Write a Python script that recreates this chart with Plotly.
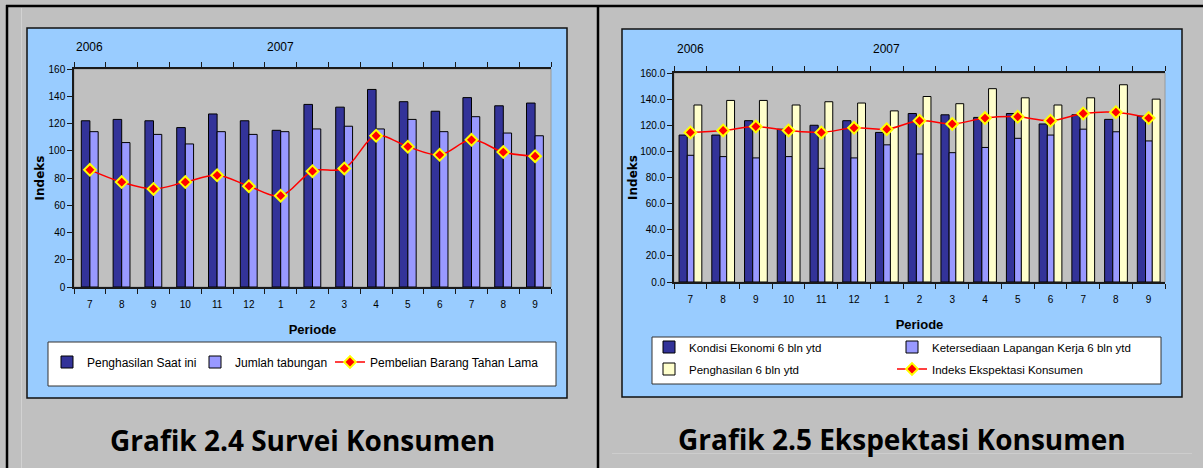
import plotly.graph_objects as go

# ---------------- data ----------------
months = ["7", "8", "9", "10", "11", "12", "1", "2", "3", "4", "5", "6", "7", "8", "9"]
years = ["2006"] * 6 + ["2007"] * 9
periods = [f"{y}-{m}" for y, m in zip(years, months)]

# Grafik 2.4 Survei Konsumen
penghasilan_saat_ini = [122, 123, 122, 117, 127, 122, 115, 134, 132, 145, 136, 129, 139, 133, 135]
jumlah_tabungan = [114, 106, 112, 105, 114, 112, 114, 116, 118, 116, 123, 114, 125, 113, 111]
pembelian_barang = [86, 77, 72, 77, 82, 74, 67, 85, 87, 111, 103, 97, 108, 99, 96]

# Grafik 2.5 Ekspektasi Konsumen
kondisi_ekonomi = [112.5, 112.5, 123.5, 117, 120, 123.5, 114.5, 129, 128, 126, 129, 121, 128, 124.5, 127]
ketersediaan_kerja = [97, 96, 95, 96, 87, 95, 105, 98, 99, 103, 110, 112.5, 117, 115, 108]
penghasilan_6bln = [135.5, 139, 139, 135.5, 138, 137, 131, 142, 136.5, 148, 141, 135.5, 141, 151, 140]
indeks_ekspektasi = [114.5, 116, 119, 116, 114.5, 118, 117, 123.5, 121, 125.5, 126.5, 123.5, 129, 130, 125.5]

# ---------------- helpers ----------------
W, H = 1203, 468


def px(x):
    return x / W


def py(y):
    return 1 - y / H


DARK = "#333399"
LIGHT = "#9999ff"
PALE = "#ffffcc"
RED = "#ff0000"
YEL = "#ffff00"
FONT = "Liberation Sans, Arial, sans-serif"

fig = go.Figure()

bar_line = dict(color="#000000", width=1)
marker_style = dict(symbol="diamond", size=9, color=RED, line=dict(color=YEL, width=2))
line_style = dict(color=RED, width=1.5, shape="spline", smoothing=1.0)

# ---- left chart ----
fig.add_trace(go.Bar(x=periods, y=penghasilan_saat_ini, name="Penghasilan Saat ini",
                     marker=dict(color=DARK, line=bar_line), width=0.27, offset=-0.27,
                     xaxis="x", yaxis="y", legend="legend", showlegend=True))
fig.add_trace(go.Bar(x=periods, y=jumlah_tabungan, name="Jumlah tabungan",
                     marker=dict(color=LIGHT, line=bar_line), width=0.26, offset=0.0,
                     xaxis="x", yaxis="y", legend="legend2", showlegend=True))
fig.add_trace(go.Scatter(x=periods, y=pembelian_barang, name="Pembelian Barang Tahan Lama",
                         mode="lines+markers", line=line_style, marker=marker_style,
                         xaxis="x", yaxis="y", legend="legend3", showlegend=True))

# ---- right chart ----
fig.add_trace(go.Bar(x=periods, y=kondisi_ekonomi, name="Kondisi Ekonomi 6 bln ytd",
                     marker=dict(color=DARK, line=bar_line), width=0.25, offset=-0.345,
                     xaxis="x2", yaxis="y2", legend="legend4", showlegend=True))
fig.add_trace(go.Bar(x=periods, y=ketersediaan_kerja, name="Ketersediaan Lapangan Kerja 6 bln ytd",
                     marker=dict(color=LIGHT, line=bar_line), width=0.21, offset=-0.095,
                     xaxis="x2", yaxis="y2", legend="legend5", showlegend=True))
fig.add_trace(go.Bar(x=periods, y=penghasilan_6bln, name="Penghasilan 6 bln ytd",
                     marker=dict(color=PALE, line=bar_line), width=0.24, offset=0.11,
                     xaxis="x2", yaxis="y2", legend="legend6", showlegend=True))
fig.add_trace(go.Scatter(x=periods, y=indeks_ekspektasi, name="Indeks Ekspektasi Konsumen",
                         mode="lines+markers", line=line_style, marker=marker_style,
                         xaxis="x2", yaxis="y2", legend="legend7", showlegend=True))

# ---------------- axes ----------------
tickfont = dict(family=FONT, size=10, color="#000000")
xcommon = dict(type="category", tickmode="array", tickvals=periods, ticktext=months,
               tickson="boundaries", showline=True, linecolor="#1a1a1a", linewidth=1.5,
               mirror="ticks", ticks="outside", ticklen=5, tickwidth=1.2, tickcolor="#1a1a1a",
               showgrid=False, zeroline=False, tickfont=tickfont, ticklabelstandoff=7,
               range=[-0.5, 14.5], fixedrange=True, automargin=False)
ycommon = dict(range=[0, 160], dtick=20, showline=True, linecolor="#1a1a1a", linewidth=1.5,
               ticks="outside", ticklen=5, tickwidth=1.2, tickcolor="#1a1a1a",
               showgrid=False, zeroline=False, tickfont=tickfont, fixedrange=True,
               automargin=False)

title_x = dict(text="<b>Periode</b>", font=dict(family=FONT, size=13, color="#000000"), standoff=16)
title_y = dict(text="<b>Indeks</b>", font=dict(family="DejaVu Sans, sans-serif", size=12, color="#000000"))

fig.update_layout(
    xaxis=dict(domain=[px(74), px(551)], anchor="y", title=title_x, **xcommon),
    yaxis=dict(domain=[py(287), py(69)], anchor="x", title=dict(standoff=1, **title_y), **ycommon),
    xaxis2=dict(domain=[px(674), px(1165)], anchor="y2", title=title_x, **xcommon),
    yaxis2=dict(domain=[py(282), py(73)], anchor="x2", tickformat=".1f",
                title=dict(standoff=0, **title_y), **ycommon),
)

# ---------------- legends ----------------
def leg(x, y, size=12):
    return dict(x=px(x), y=py(y), xanchor="left", yanchor="middle", orientation="v",
                bgcolor="rgba(0,0,0,0)", borderwidth=0, visible=True,
                font=dict(family=FONT, size=size, color="#000000"),
                itemclick=False, itemdoubleclick=False)


fig.update_layout(
    showlegend=True,
    legend=leg(47, 362), legend2=leg(195, 362), legend3=leg(330, 362),
    legend4=leg(649, 347, 11.5), legend5=leg(892, 347, 11.5),
    legend6=leg(649, 369, 11.5), legend7=leg(892, 369, 11.5),
)

# ---------------- frame shapes ----------------
shapes = [
    # blue chart areas
    dict(type="rect", xref="paper", yref="paper", x0=px(27), x1=px(567), y0=py(398), y1=py(28),
         fillcolor="#99ccff", line=dict(color="#111111", width=1.5), layer="below"),
    dict(type="rect", xref="paper", yref="paper", x0=px(622), x1=px(1182), y0=py(397), y1=py(29),
         fillcolor="#99ccff", line=dict(color="#111111", width=1.5), layer="below"),
    # gray plot areas
    dict(type="rect", xref="paper", yref="paper", x0=px(74), x1=px(551), y0=py(287), y1=py(69),
         fillcolor="#c0c0c0", line=dict(color="#9a9a9a", width=1), layer="below"),
    dict(type="rect", xref="paper", yref="paper", x0=px(674), x1=px(1165), y0=py(282), y1=py(73),
         fillcolor="#c0c0c0", line=dict(color="#9a9a9a", width=1), layer="below"),
    # white legend boxes
    dict(type="rect", xref="paper", yref="paper", x0=px(48), x1=px(556), y0=py(386), y1=py(342),
         fillcolor="#ffffff", line=dict(color="#333333", width=1), layer="below"),
    dict(type="rect", xref="paper", yref="paper", x0=px(652), x1=px(1161), y0=py(384), y1=py(337),
         fillcolor="#ffffff", line=dict(color="#333333", width=1), layer="below"),
    # page frame lines
    dict(type="line", xref="paper", yref="paper", x0=px(6), x1=1, y0=py(6), y1=py(6),
         line=dict(color="#000000", width=2.5), layer="below"),
    dict(type="line", xref="paper", yref="paper", x0=px(7), x1=px(7), y0=py(5), y1=0,
         line=dict(color="#000000", width=2.5), layer="below"),
    dict(type="line", xref="paper", yref="paper", x0=px(598), x1=px(598), y0=py(5), y1=0,
         line=dict(color="#000000", width=2.5), layer="below"),
    dict(type="line", xref="paper", yref="paper", x0=px(21.5), x1=px(21.5), y0=py(8), y1=0,
         line=dict(color="#d2d2d2", width=1), layer="below"),
    dict(type="line", xref="paper", yref="paper", x0=px(612), x1=px(1192), y0=py(453.5), y1=py(453.5),
         line=dict(color="#cdcdcd", width=1), layer="below"),
]

annotations = []
# year labels
for xa in ("x", "x2"):
    for idx, yr in ((0, "2006"), (6, "2007")):
        annotations.append(dict(text=yr, xref=xa, yref="paper", x=periods[idx],
                                y=py(47 if xa == "x" else 49), xanchor="center", yanchor="middle",
                                showarrow=False, font=dict(family=FONT, size=12, color="#000000")))
# captions
annotations.append(dict(text="<b>Grafik 2.4 Survei Konsumen</b>", xref="paper", yref="paper",
                        x=px(302), y=py(440), xanchor="center", yanchor="middle", showarrow=False,
                        font=dict(family="Open Sans, sans-serif", size=28, color="#000000")))
annotations.append(dict(text="<b>Grafik 2.5 Ekspektasi Konsumen</b>", xref="paper", yref="paper",
                        x=px(902), y=py(439), xanchor="center", yanchor="middle", showarrow=False,
                        font=dict(family="Open Sans, sans-serif", size=28, color="#000000")))

fig.update_layout(
    width=W, height=H, autosize=False,
    margin=dict(l=0, r=0, t=0, b=0, pad=0, autoexpand=False),
    paper_bgcolor="#c0c0c0", plot_bgcolor="rgba(0,0,0,0)",
    barmode="group", bargap=0.45, bargroupgap=0,
    shapes=shapes, annotations=annotations,
    font=dict(family=FONT, color="#000000"),
    hovermode=False,
)

fig.write_html("out.html", config={"displayModeBar": False})
